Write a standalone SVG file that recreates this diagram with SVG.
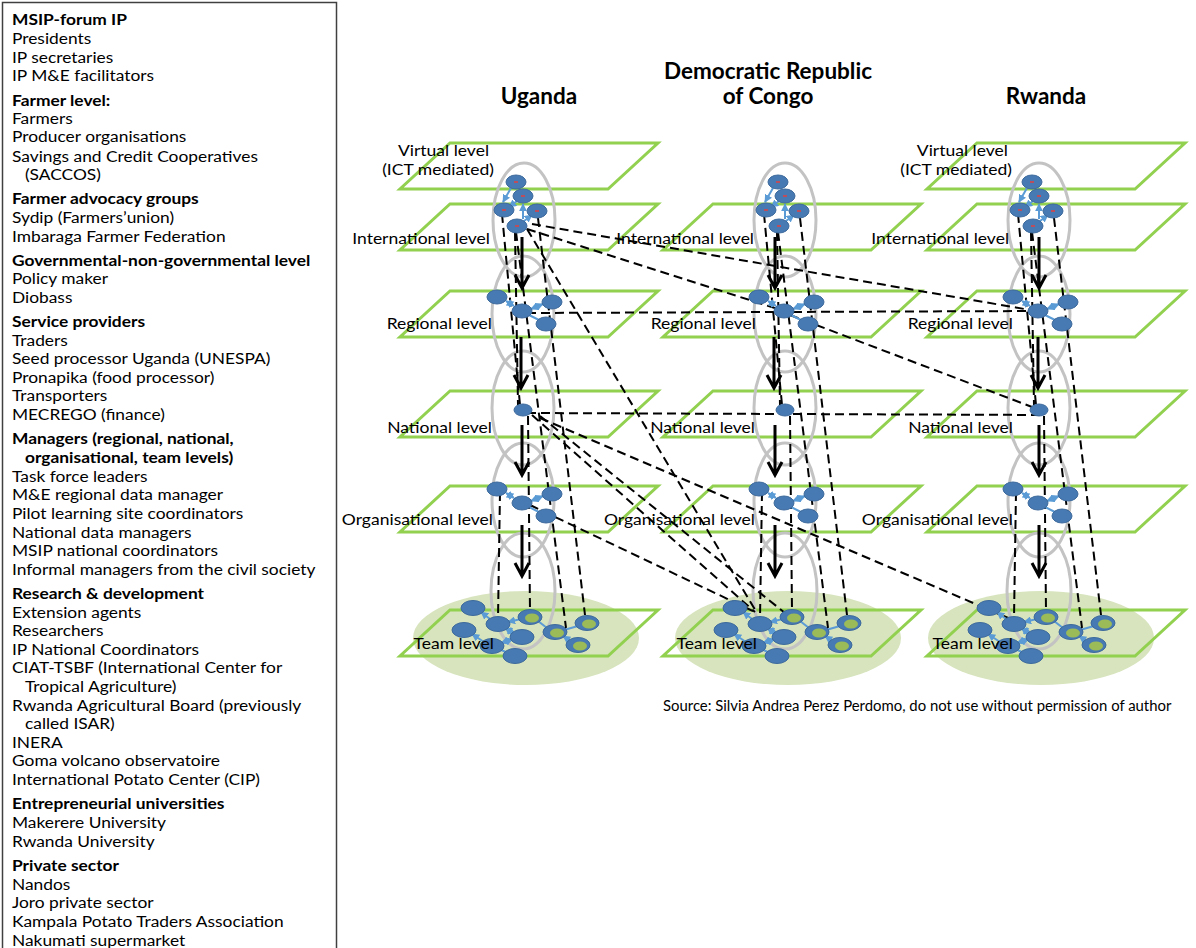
<svg xmlns="http://www.w3.org/2000/svg" xmlns:xlink="http://www.w3.org/1999/xlink" width="1196" height="948" viewBox="0 0 1196 948">
  <style>
    .legend { font-family: Lato, "Liberation Sans", sans-serif; font-size: 16px; fill: #000; }
    .legend .h { font-weight: bold; }
    .title { font-family: Lato, "Liberation Sans", sans-serif; font-size: 22.5px; font-weight: bold; fill: #000; text-anchor: middle; }
    .lvl { font-family: Lato, "Liberation Sans", sans-serif; font-size: 16px; fill: #000; text-anchor: end; }
    .src { font-family: Lato, "Liberation Sans", sans-serif; font-size: 14.9px; fill: #000; }
    .plane { fill: none; stroke: #92D050; stroke-width: 3; }
    .team-area { fill: #D7E4BD; }
    .scope { fill: none; stroke: #C3C3C3; stroke-width: 3; }
    .nd { fill: #4779B2; stroke: #3D6A9C; stroke-width: 1; }
    .nd-g { fill: #9BBB59; }
    .tick { stroke: #E04040; stroke-width: 1.5; }
    .link { stroke: #5B9BD5; stroke-width: 2; fill: none; }
    .dash { stroke: #000; stroke-width: 2; fill: none; stroke-dasharray: 9 5; }
    .flow { stroke: #000; stroke-width: 3; fill: none; }
  </style>
  <defs>
    <marker id="ah" viewBox="0 0 10 10" refX="9" refY="5" markerWidth="4" markerHeight="4" orient="auto-start-reverse">
      <path d="M0,0 L10,5 L0,10 z" fill="#5B9BD5"/>
    </marker>
    <polygon id="plane" class="plane" points="50,0 258,0 208,46 0,46"/>
    <!-- top cluster: international / virtual actors -->
    <g id="tpl-top">
      <line class="link" x1="511" y1="188" x2="503" y2="202" marker-end="url(#ah)"/>
      <line class="link" x1="517" y1="201" x2="509" y2="207" marker-end="url(#ah)"/>
      <line class="link" x1="523" y1="219" x2="523" y2="204" marker-end="url(#ah)"/>
      <line class="link" x1="524" y1="221" x2="532" y2="215" marker-end="url(#ah)"/>
      <ellipse class="nd" cx="516" cy="182" rx="10" ry="7"/>
      <ellipse class="nd" cx="523" cy="196" rx="10" ry="7"/>
      <ellipse class="nd" cx="504" cy="210" rx="10" ry="7"/>
      <ellipse class="nd" cx="537" cy="211" rx="10" ry="7"/>
      <ellipse class="nd" cx="517" cy="226" rx="10" ry="7"/>
      <line class="tick" x1="514" y1="182" x2="518" y2="182"/>
      <line class="tick" x1="521" y1="196" x2="525" y2="196"/>
      <line class="tick" x1="502" y1="210" x2="506" y2="210"/>
      <line class="tick" x1="535" y1="211" x2="539" y2="211"/>
      <line class="tick" x1="515" y1="226" x2="519" y2="226"/>
    </g>
    <!-- four-actor cluster (regional / organisational) -->
    <g id="tpl-four">
      <line class="link" x1="506" y1="301" x2="514" y2="306" marker-start="url(#ah)" marker-end="url(#ah)"/>
      <line class="link" x1="531" y1="309" x2="543" y2="304" marker-start="url(#ah)" marker-end="url(#ah)"/>
      <line class="link" x1="529" y1="315" x2="539" y2="320"/>
      <ellipse class="nd" cx="497" cy="297" rx="10" ry="7"/>
      <ellipse class="nd" cx="522" cy="311" rx="10" ry="7"/>
      <ellipse class="nd" cx="552" cy="302" rx="10" ry="7"/>
      <ellipse class="nd" cx="546" cy="324" rx="10" ry="7"/>
    </g>
    <!-- team-level actors -->
    <g id="tpl-team">
      <line class="link" x1="481" y1="612" x2="490" y2="619" marker-start="url(#ah)"/>
      <line class="link" x1="521" y1="619" x2="508" y2="622" marker-end="url(#ah)"/>
      <line class="link" x1="505" y1="628" x2="515" y2="634" marker-start="url(#ah)" marker-end="url(#ah)"/>
      <line class="link" x1="472" y1="634" x2="484" y2="642" marker-start="url(#ah)"/>
      <line class="link" x1="501" y1="643" x2="513" y2="639" marker-start="url(#ah)" marker-end="url(#ah)"/>
      <line class="link" x1="499" y1="649" x2="508" y2="653"/>
      <line class="link" x1="538" y1="621" x2="547" y2="628"/>
      <line class="link" x1="564" y1="630" x2="578" y2="626"/>
      <line class="link" x1="572" y1="642" x2="563" y2="636" marker-end="url(#ah)"/>
      <ellipse class="nd" cx="473" cy="608" rx="12" ry="7.5"/>
      <ellipse class="nd" cx="498" cy="624" rx="12" ry="7.5"/>
      <ellipse class="nd" cx="464" cy="630" rx="12" ry="7.5"/>
      <ellipse class="nd" cx="522" cy="637" rx="12" ry="7.5"/>
      <ellipse class="nd" cx="492" cy="646" rx="12" ry="7.5"/>
      <ellipse class="nd" cx="515" cy="656" rx="12" ry="7.5"/>
      <ellipse class="nd" cx="530" cy="617" rx="12" ry="7.5"/>
      <ellipse class="nd-g" cx="532" cy="618" rx="7" ry="4.5"/>
      <ellipse class="nd" cx="555" cy="632" rx="12" ry="7.5"/>
      <ellipse class="nd-g" cx="557" cy="633" rx="7" ry="4.5"/>
      <ellipse class="nd" cx="587" cy="623" rx="12" ry="7.5"/>
      <ellipse class="nd-g" cx="589" cy="624" rx="7" ry="4.5"/>
      <ellipse class="nd" cx="578" cy="645" rx="12" ry="7.5"/>
      <ellipse class="nd-g" cx="580" cy="646" rx="7" ry="4.5"/>
    </g>
    <!-- links that stay inside one country column -->
    <g id="tpl-col-dash">
      <path class="dash" d="M502,214 L520,405"/>
      <path class="dash" d="M515,232 L518,405"/>
      <path class="dash" d="M516,232 L566,628"/>
      <path class="dash" d="M538,218 L585,615"/>
      <path class="dash" d="M528,416 L530,611"/>
      <path class="dash" d="M500,492 L498,618"/>
    </g>
    <!-- downward flow arrows -->
    <g id="tpl-flow">
      <path class="flow" d="M522,237 V288 M515,275 L522,288 L529,275"/>
      <path class="flow" d="M521,337 V388 M514,375 L521,388 L528,375"/>
      <path class="flow" d="M522,425 V475 M515,462 L522,475 L529,462"/>
      <path class="flow" d="M522,525 V576 M515,563 L522,576 L529,563"/>
    </g>
  </defs>

  <!-- legend box -->
  <g id="legend">
    <rect x="2.5" y="2.5" width="334" height="960" fill="none" stroke="#404040" stroke-width="1.5"/>
    <text class="legend" transform="scale(1.085 1)">
      <tspan class="h" x="11.06" y="25">MSIP-forum IP</tspan>
      <tspan x="11.06" y="44">Presidents</tspan>
      <tspan x="11.06" y="63">IP secretaries</tspan>
      <tspan x="11.06" y="81">IP M&amp;E facilitators</tspan>
      <tspan class="h" x="11.06" y="106">Farmer level:</tspan>
      <tspan x="11.06" y="124">Farmers</tspan>
      <tspan x="11.06" y="142">Producer organisations</tspan>
      <tspan x="11.06" y="162">Savings and Credit Cooperatives</tspan>
      <tspan x="23.04" y="180">(SACCOS)</tspan>
      <tspan class="h" x="11.06" y="204">Farmer advocacy groups</tspan>
      <tspan x="11.06" y="223">Sydip (Farmers’union)</tspan>
      <tspan x="11.06" y="242">Imbaraga Farmer Federation</tspan>
      <tspan class="h" x="11.06" y="266">Governmental-non-governmental level</tspan>
      <tspan x="11.06" y="284">Policy maker</tspan>
      <tspan x="11.06" y="303">Diobass</tspan>
      <tspan class="h" x="11.06" y="327">Service providers</tspan>
      <tspan x="11.06" y="346">Traders</tspan>
      <tspan x="11.06" y="364">Seed processor Uganda (UNESPA)</tspan>
      <tspan x="11.06" y="383">Pronapika (food processor)</tspan>
      <tspan x="11.06" y="401">Transporters</tspan>
      <tspan x="11.06" y="420">MECREGO (finance)</tspan>
      <tspan class="h" x="11.06" y="444">Managers (regional, national,</tspan>
      <tspan class="h" x="23.04" y="463">organisational, team levels)</tspan>
      <tspan x="11.06" y="482">Task force leaders</tspan>
      <tspan x="11.06" y="500">M&amp;E regional data manager</tspan>
      <tspan x="11.06" y="519">Pilot learning site coordinators</tspan>
      <tspan x="11.06" y="538">National data managers</tspan>
      <tspan x="11.06" y="556">MSIP national coordinators</tspan>
      <tspan x="11.06" y="575">Informal managers from the civil society</tspan>
      <tspan class="h" x="11.06" y="599">Research &amp; development</tspan>
      <tspan x="11.06" y="618">Extension agents</tspan>
      <tspan x="11.06" y="636">Researchers</tspan>
      <tspan x="11.06" y="655">IP National Coordinators</tspan>
      <tspan x="11.06" y="673">CIAT-TSBF (International Center for</tspan>
      <tspan x="23.04" y="692">Tropical Agriculture)</tspan>
      <tspan x="11.06" y="711">Rwanda Agricultural Board (previously</tspan>
      <tspan x="23.04" y="729">called ISAR)</tspan>
      <tspan x="11.06" y="748">INERA</tspan>
      <tspan x="11.06" y="766">Goma volcano observatoire</tspan>
      <tspan x="11.06" y="785">International Potato Center (CIP)</tspan>
      <tspan class="h" x="11.06" y="809">Entrepreneurial universities</tspan>
      <tspan x="11.06" y="828">Makerere University</tspan>
      <tspan x="11.06" y="847">Rwanda University</tspan>
      <tspan class="h" x="11.06" y="871">Private sector</tspan>
      <tspan x="11.06" y="890">Nandos</tspan>
      <tspan x="11.06" y="908">Joro private sector</tspan>
      <tspan x="11.06" y="927">Kampala Potato Traders Association</tspan>
      <tspan x="11.06" y="946">Nakumati supermarket</tspan>
    </text>
  </g>

  <!-- country headings -->
  <g id="headings">
    <text class="title" x="539" y="104">Uganda</text>
    <text class="title" x="768" y="79">Democratic Republic</text>
    <text class="title" x="768" y="104">of Congo</text>
    <text class="title" x="1046" y="104">Rwanda</text>
  </g>

  <!-- team-level shaded areas -->
  <g id="team-areas">
    <ellipse class="team-area" cx="526" cy="638" rx="113" ry="47"/>
    <ellipse class="team-area" cx="788" cy="638" rx="113" ry="47"/>
    <ellipse class="team-area" cx="1041" cy="638" rx="113" ry="47"/>
  </g>

  <!-- level planes -->
  <g id="planes">
    <use xlink:href="#plane" x="400" y="143"/>
    <use xlink:href="#plane" x="400" y="204"/>
    <use xlink:href="#plane" x="400" y="291"/>
    <use xlink:href="#plane" x="400" y="391"/>
    <use xlink:href="#plane" x="400" y="486"/>
    <use xlink:href="#plane" x="400" y="610"/>
    <use xlink:href="#plane" x="663" y="204"/>
    <use xlink:href="#plane" x="663" y="291"/>
    <use xlink:href="#plane" x="663" y="391"/>
    <use xlink:href="#plane" x="663" y="486"/>
    <use xlink:href="#plane" x="663" y="610"/>
    <use xlink:href="#plane" x="927" y="143"/>
    <use xlink:href="#plane" x="927" y="204"/>
    <use xlink:href="#plane" x="927" y="291"/>
    <use xlink:href="#plane" x="927" y="391"/>
    <use xlink:href="#plane" x="927" y="486"/>
    <use xlink:href="#plane" x="927" y="610"/>
  </g>

  <!-- scope ellipses around each level's actors -->
  <g id="scopes">
    <ellipse class="scope" cx="524" cy="220" rx="31" ry="57"/>
    <ellipse class="scope" cx="523" cy="314" rx="31" ry="58"/>
    <ellipse class="scope" cx="523" cy="408" rx="31" ry="57"/>
    <ellipse class="scope" cx="523" cy="500" rx="31" ry="57"/>
    <ellipse class="scope" cx="523" cy="591" rx="32" ry="58"/>
    <ellipse class="scope" cx="785" cy="220" rx="31" ry="57"/>
    <ellipse class="scope" cx="785" cy="314" rx="31" ry="58"/>
    <ellipse class="scope" cx="785" cy="408" rx="31" ry="57"/>
    <ellipse class="scope" cx="785" cy="500" rx="31" ry="57"/>
    <ellipse class="scope" cx="785" cy="591" rx="32" ry="58"/>
    <ellipse class="scope" cx="1039" cy="220" rx="31" ry="57"/>
    <ellipse class="scope" cx="1039" cy="314" rx="31" ry="58"/>
    <ellipse class="scope" cx="1039" cy="408" rx="31" ry="57"/>
    <ellipse class="scope" cx="1039" cy="500" rx="31" ry="57"/>
    <ellipse class="scope" cx="1039" cy="591" rx="32" ry="58"/>
  </g>

  <!-- connectors -->
  <g id="connectors">
    <use xlink:href="#tpl-flow"/>
    <use xlink:href="#tpl-flow" x="253"/>
    <use xlink:href="#tpl-flow" x="517"/>
    <use xlink:href="#tpl-col-dash"/>
    <use xlink:href="#tpl-col-dash" x="262"/>
    <use xlink:href="#tpl-col-dash" x="516"/>
    <path class="dash" d="M532,224 L1036,311"/>
    <path class="dash" d="M527,229 L784,311"/>
    <path class="dash" d="M527,229 L757,613"/>
    <path class="dash" d="M527,313 L1035,311"/>
    <path class="dash" d="M527,413 L1045,415"/>
    <path class="dash" d="M540,418 L1013,620"/>
    <path class="dash" d="M790,315 L1040,410"/>
    <path class="dash" d="M532,415 L755,612"/>
    <path class="dash" d="M540,416 L785,613"/>
    <path class="dash" d="M530,505 L757,613"/>
  </g>

  <!-- actor nodes, per country and level -->
  <g id="ug-international"><use xlink:href="#tpl-top"/></g>
  <g id="ug-regional"><use xlink:href="#tpl-four"/></g>
  <g id="ug-national"><ellipse class="nd" cx="523" cy="410" rx="9" ry="6"/></g>
  <g id="ug-organisational"><use xlink:href="#tpl-four" y="192"/></g>
  <g id="ug-team"><use xlink:href="#tpl-team"/></g>

  <g id="drc-international"><use xlink:href="#tpl-top" x="262"/></g>
  <g id="drc-regional"><use xlink:href="#tpl-four" x="262"/></g>
  <g id="drc-national"><ellipse class="nd" cx="785" cy="410" rx="9" ry="6"/></g>
  <g id="drc-organisational"><use xlink:href="#tpl-four" x="262" y="192"/></g>
  <g id="drc-team"><use xlink:href="#tpl-team" x="262"/></g>

  <g id="rw-international"><use xlink:href="#tpl-top" x="516"/></g>
  <g id="rw-regional"><use xlink:href="#tpl-four" x="516"/></g>
  <g id="rw-national"><ellipse class="nd" cx="1039" cy="410" rx="9" ry="6"/></g>
  <g id="rw-organisational"><use xlink:href="#tpl-four" x="516" y="192"/></g>
  <g id="rw-team"><use xlink:href="#tpl-team" x="516"/></g>

  <!-- level labels, drawn last so they read over the actors (x values are in the horizontally stretched space) -->
  <g id="level-labels" transform="scale(1.095 1)">
    <text class="lvl" x="446.6" y="156">Virtual level</text>
    <text class="lvl" x="451.1" y="175">(ICT mediated)</text>
    <text class="lvl" x="447.5" y="244">International level</text>
    <text class="lvl" x="449.3" y="329">Regional level</text>
    <text class="lvl" x="449.3" y="433">National level</text>
    <text class="lvl" x="450.2" y="525">Organisational level</text>
    <text class="lvl" x="451.1" y="649">Team level</text>

    <text class="lvl" x="688.6" y="244">International level</text>
    <text class="lvl" x="690.4" y="329">Regional level</text>
    <text class="lvl" x="689.5" y="433">National level</text>
    <text class="lvl" x="689.5" y="525">Organisational level</text>
    <text class="lvl" x="691.3" y="649">Team level</text>

    <text class="lvl" x="920.5" y="156">Virtual level</text>
    <text class="lvl" x="924.2" y="175">(ICT mediated)</text>
    <text class="lvl" x="921.5" y="244">International level</text>
    <text class="lvl" x="925.1" y="329">Regional level</text>
    <text class="lvl" x="925.1" y="433">National level</text>
    <text class="lvl" x="925.1" y="525">Organisational level</text>
    <text class="lvl" x="925.1" y="649">Team level</text>
  </g>

  <text class="src" x="663" y="711">Source: Silvia Andrea Perez Perdomo, do not use without permission of author</text>
</svg>
